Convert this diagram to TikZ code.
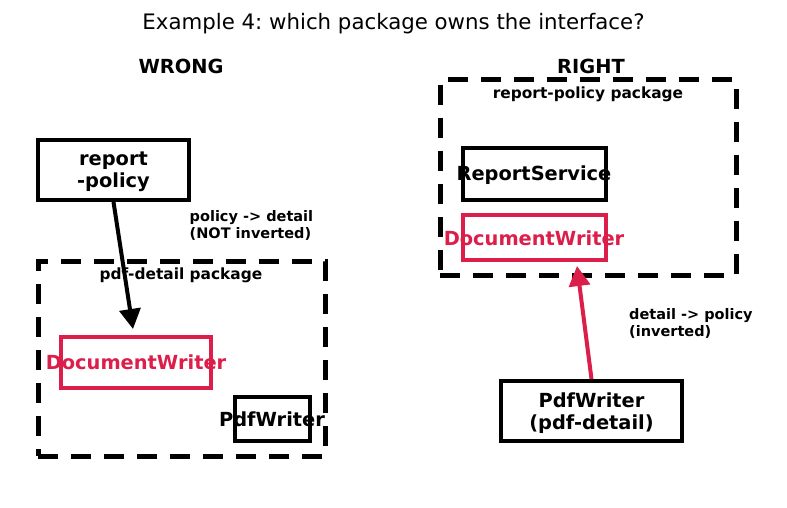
\documentclass[tikz,border=0pt]{standalone}
\usepackage{fontspec}
\setmainfont{DejaVu Sans}
\usetikzlibrary{arrows.meta}
\definecolor{red1}{RGB}{220,30,74}
\frenchspacing
\tikzset{
  box/.style={draw=black, line width=4pt, inner sep=0pt},
  pkg/.style={draw=black, line width=5pt, dash pattern=on 20pt off 13pt, inner sep=0pt},
  redbox/.style={draw=red1, line width=4pt, inner sep=0pt},
  big/.style={font=\fontsize{19.4}{22}\selectfont\bfseries, align=center, inner sep=0pt},
  small/.style={font=\fontsize{15.4}{17.5}\selectfont\bfseries, align=left, inner sep=0pt},
  note/.style={font=\fontsize{14.5}{17}\selectfont\bfseries, align=left, inner sep=0pt},
  arr/.style={line width=4pt, -{Triangle[length=20pt,width=21pt]}},
}
\begin{document}
\begin{tikzpicture}[x=1pt,y=-1pt]
\useasboundingbox (0,0) rectangle (787,508);
\node[font=\fontsize{21.3}{25}\selectfont, inner sep=0pt] (title) at (393.5,24) {Example 4: which package owns the interface?};
\node[big] (wrong) at (181,66) {WRONG};
\node[big] (right) at (591,66) {RIGHT};
% WRONG side
\node[pkg, minimum width=287pt, minimum height=195pt] (pdfpkg) at (181.5,358.5) {};
\node[small] (pdfpkglbl) at (181,275.5) {pdf-detail package};
\node[box, minimum width=151pt, minimum height=60pt] (rp) at (113.5,170) {};
\node[big] (rptxt) at (113.5,172) {report\\-policy};
\node[redbox, minimum width=150pt, minimum height=51pt] (dw1) at (136,362.5) {};
\node[big, text=red1] (dw1txt) at (136,362.5) {DocumentWriter};
\node[box, minimum width=75pt, minimum height=44pt] (pw1) at (272.5,419) {};
\node[big] (pw1txt) at (272,419) {PdfWriter};
\node[note, anchor=north west] (lbl1) at (189.5,210) {policy -> detail\\(NOT inverted)};
\coordinate (a1) at (133,329);
\draw[arr] (rp.south) -- (a1);
% RIGHT side
\node[pkg, minimum width=296pt, minimum height=195pt] (rppkg) at (588,177.5) {};
\node[small] (rppkglbl) at (588,94.5) {report-policy package};
\node[box, minimum width=143pt, minimum height=52pt] (rs) at (534.5,174) {};
\node[big] (rstxt) at (534,175) {ReportService};
\node[redbox, minimum width=143pt, minimum height=45pt] (dw2) at (534.5,237.5) {};
\node[big, text=red1] (dw2txt) at (534,238) {DocumentWriter};
\node[box, minimum width=181pt, minimum height=60pt] (pw2) at (591.5,411) {};
\node[big] (pw2txt) at (591.5,413) {PdfWriter\\(pdf-detail)};
\node[note, anchor=north west] (lbl2) at (629,308) {detail -> policy\\(inverted)};
\coordinate (a2) at (577,266);
\draw[arr, draw=red1, fill=red1] (pw2.north) -- (a2);
\end{tikzpicture}
\end{document}
